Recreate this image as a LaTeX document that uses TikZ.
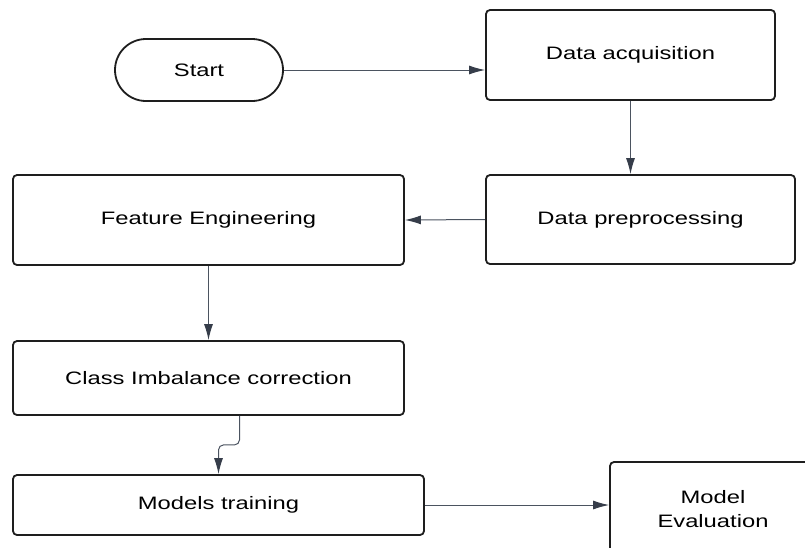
\documentclass[tikz,border=0pt]{standalone}
\usepackage{fontspec}
\setmainfont{Liberation Sans}[FakeStretch=1.32]
\usepackage{tikz}
\usetikzlibrary{arrows.meta, positioning, calc, shapes.misc}

\definecolor{boxline}{HTML}{1E1E1E}
\definecolor{flowline}{HTML}{4B5360}
\definecolor{flowhead}{HTML}{363D4A}

\tikzset{
  stage/.style={draw=boxline, line width=1.8pt, rounded corners=4pt, fill=white,
    align=center, inner sep=0pt, font=\fontsize{18}{24}\selectfont},
  flow/.style={draw=flowline, line width=1pt,
    -{Latex[length=16pt, width=9pt, color=flowhead]}},
}

\begin{document}
\begin{tikzpicture}[x=1pt, y=-1pt]
            \useasboundingbox (0,0) rectangle (805,547);
            % Stages
            \node[stage, rounded rectangle, rounded corners=0pt, minimum width=168pt, minimum height=62pt] (start) at (199,70) {Start};
            \node[stage, minimum width=289pt, minimum height=90pt] (acq) at (630.5,55) {Data acquisition};
            \node[stage, minimum width=309pt, minimum height=89pt] (prep) at (640.5,219.5) {Data preprocessing};
            \node[stage, minimum width=391pt, minimum height=90pt] (feat) at (208.5,220) {Feature Engineering};
            \node[stage, minimum width=391pt, minimum height=74pt] (balance) at (208.5,378) {Class Imbalance correction};
            \node[stage, minimum width=411pt, minimum height=60pt] (train) at (218.5,505) {Models training};
            % runs off the lower right corner
            \node[stage, minimum width=206pt, minimum height=94pt] (eval) at (713,509) {Model\\Evaluation};
            % Connectors
            \draw[flow] (start.east) -- (start.east -| acq.west);
            \draw[flow] (acq.south) -- (acq.south |- prep.north);
            \draw[flow] (prep.west) -- (feat.east);
            \draw[flow] (feat.south) -- (balance.north);
            \draw[flow, rounded corners=5pt] ([xshift=31pt]balance.south) -- ++(0,29) -| (train.north);
            \draw[flow] (train.east) -- (train.east -| eval.west);
        \end{tikzpicture}
\end{document}
